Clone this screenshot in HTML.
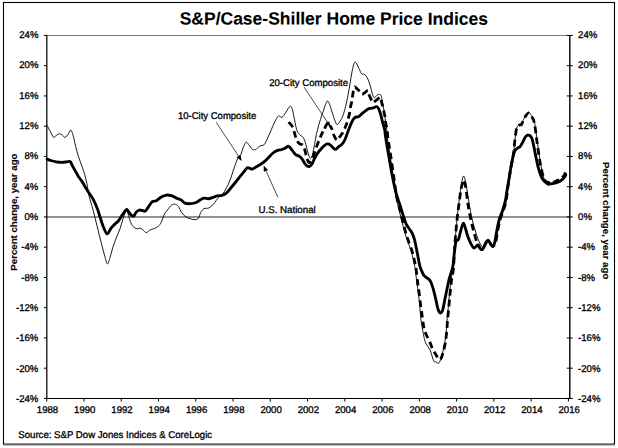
<!DOCTYPE html><html><head><meta charset="utf-8"><style>
html,body{margin:0;padding:0;background:#fff}
body{width:618px;height:448px;position:relative;overflow:hidden}
</style></head><body>
<svg width="618" height="448" viewBox="0 0 618 448" style="position:absolute;left:0;top:0">
<rect x="3.5" y="2.5" width="611" height="441.6" fill="#fff" stroke="#000" stroke-width="1.1"/>
<rect x="3" y="444.65" width="612" height="0.9" fill="#8a8a8a"/>
<line x1="46.8" y1="35.5" x2="569.8" y2="35.5" stroke="#7a7a7a" stroke-width="1"/>
<line x1="46.8" y1="217.0" x2="569.8" y2="217.0" stroke="#6e6e6e" stroke-width="1.7"/>
<path d="M47.10,125.20 C47.55,126.08 48.75,128.52 49.80,130.50 C50.85,132.48 52.50,136.12 53.40,137.10 C54.30,138.08 54.30,136.95 55.20,136.40 C56.10,135.85 57.62,134.03 58.80,133.80 C59.98,133.57 61.33,134.42 62.30,135.00 C63.27,135.58 63.70,137.30 64.60,137.30 C65.50,137.30 66.73,136.18 67.70,135.00 C68.67,133.82 69.67,130.65 70.40,130.20 C71.13,129.75 71.52,130.90 72.10,132.30 C72.68,133.70 73.30,136.22 73.90,138.60 C74.50,140.98 74.95,143.63 75.70,146.60 C76.45,149.57 77.35,153.12 78.40,156.40 C79.45,159.68 80.97,163.32 82.00,166.30 C83.03,169.28 83.80,171.48 84.60,174.30 C85.40,177.12 86.25,180.67 86.80,183.20 C87.35,185.73 87.52,187.35 87.90,189.50 C88.28,191.65 88.23,192.67 89.10,196.10 C89.97,199.53 91.77,205.08 93.10,210.10 C94.43,215.12 95.77,220.85 97.10,226.20 C98.43,231.55 99.77,237.02 101.10,242.20 C102.43,247.38 104.03,253.68 105.10,257.30 C106.17,260.92 106.67,263.90 107.50,263.90 C108.33,263.90 109.15,260.23 110.10,257.30 C111.05,254.37 112.18,249.48 113.20,246.30 C114.22,243.12 115.03,241.22 116.20,238.20 C117.37,235.18 119.03,231.53 120.20,228.20 C121.37,224.87 122.20,221.15 123.20,218.20 C124.20,215.25 125.37,211.18 126.20,210.50 C127.03,209.82 127.53,212.32 128.20,214.10 C128.87,215.88 129.37,219.12 130.20,221.20 C131.03,223.28 132.03,225.33 133.20,226.60 C134.37,227.87 136.02,228.53 137.20,228.80 C138.38,229.07 139.28,227.97 140.30,228.20 C141.32,228.43 142.30,229.47 143.30,230.20 C144.30,230.93 145.13,232.67 146.30,232.60 C147.47,232.53 148.97,230.47 150.30,229.80 C151.63,229.13 152.97,229.20 154.30,228.60 C155.63,228.00 157.13,227.27 158.30,226.20 C159.47,225.13 160.28,224.22 161.30,222.20 C162.32,220.18 163.38,216.12 164.40,214.10 C165.42,212.08 166.23,211.60 167.40,210.10 C168.57,208.60 170.07,206.07 171.40,205.10 C172.73,204.13 174.23,204.07 175.40,204.30 C176.57,204.53 177.35,205.12 178.40,206.50 C179.45,207.88 180.40,210.83 181.70,212.60 C183.00,214.37 184.72,216.07 186.20,217.10 C187.68,218.13 189.12,218.37 190.60,218.80 C192.08,219.23 193.80,219.80 195.10,219.70 C196.40,219.60 197.47,219.38 198.40,218.20 C199.33,217.02 199.77,214.20 200.70,212.60 C201.63,211.00 202.70,209.35 204.00,208.60 C205.30,207.85 207.02,208.73 208.50,208.10 C209.98,207.47 211.60,206.10 212.90,204.80 C214.20,203.50 215.18,201.68 216.30,200.30 C217.42,198.92 218.48,197.62 219.60,196.50 C220.72,195.38 221.68,195.38 223.00,193.60 C224.32,191.82 226.20,188.40 227.50,185.80 C228.80,183.20 229.68,180.98 230.80,178.00 C231.92,175.02 233.08,171.07 234.20,167.90 C235.32,164.73 236.40,161.22 237.50,159.00 C238.60,156.78 239.87,156.45 240.80,154.60 C241.73,152.75 242.23,149.95 243.10,147.90 C243.97,145.85 245.07,142.87 246.00,142.30 C246.93,141.73 247.70,143.38 248.70,144.50 C249.70,145.62 250.88,148.15 252.00,149.00 C253.12,149.85 254.10,150.08 255.40,149.60 C256.70,149.12 258.32,146.95 259.80,146.10 C261.28,145.25 262.98,145.87 264.30,144.50 C265.62,143.13 266.54,140.35 267.70,137.90 C268.86,135.45 270.07,132.48 271.25,129.80 C272.43,127.12 273.61,124.08 274.80,121.80 C275.99,119.52 277.20,116.85 278.40,116.10 C279.60,115.35 280.82,117.83 282.00,117.30 C283.18,116.77 284.47,114.38 285.50,112.90 C286.53,111.42 287.38,109.53 288.20,108.40 C289.02,107.27 289.75,106.10 290.40,106.10 C291.05,106.10 291.57,106.92 292.10,108.40 C292.63,109.88 292.83,111.45 293.60,115.00 C294.37,118.55 295.68,126.42 296.70,129.70 C297.72,132.98 298.58,133.37 299.70,134.70 C300.82,136.03 302.37,136.07 303.40,137.70 C304.43,139.33 305.18,142.13 305.90,144.50 C306.62,146.87 307.08,149.75 307.70,151.90 C308.32,154.05 309.05,156.38 309.60,157.40 C310.15,158.42 310.50,158.52 311.00,158.00 C311.50,157.48 312.02,156.55 312.60,154.30 C313.18,152.05 313.88,147.77 314.50,144.50 C315.12,141.23 315.58,137.98 316.30,134.70 C317.02,131.42 317.87,128.08 318.80,124.80 C319.73,121.52 321.20,117.13 321.90,115.00 C322.60,112.87 322.37,113.85 323.00,112.00 C323.63,110.15 324.95,105.73 325.70,103.90 C326.45,102.07 326.87,100.97 327.50,101.00 C328.13,101.03 328.73,102.25 329.50,104.10 C330.27,105.95 331.22,109.42 332.10,112.10 C332.98,114.78 333.97,118.12 334.80,120.20 C335.63,122.28 336.20,124.45 337.10,124.60 C338.00,124.75 339.23,122.58 340.20,121.10 C341.17,119.62 342.02,118.08 342.90,115.70 C343.78,113.32 344.62,110.37 345.50,106.80 C346.38,103.23 347.45,98.17 348.20,94.30 C348.95,90.43 349.40,87.17 350.00,83.60 C350.60,80.03 351.20,76.03 351.80,72.90 C352.40,69.77 353.07,66.60 353.60,64.80 C354.13,63.00 354.47,62.25 355.00,62.10 C355.53,61.95 356.15,62.85 356.80,63.90 C357.45,64.95 358.10,66.76 358.90,68.40 C359.70,70.04 360.70,72.77 361.60,73.75 C362.50,74.73 363.40,73.71 364.30,74.30 C365.20,74.89 366.05,75.52 367.00,77.30 C367.95,79.08 369.15,82.38 370.00,85.00 C370.85,87.62 371.42,90.90 372.10,93.00 C372.78,95.10 373.27,97.25 374.10,97.60 C374.93,97.95 376.18,95.65 377.10,95.10 C378.02,94.55 378.93,94.22 379.60,94.30 C380.27,94.38 380.68,94.63 381.10,95.60 C381.52,96.57 381.68,98.02 382.10,100.10 C382.52,102.18 383.10,105.08 383.60,108.10 C384.10,111.12 384.58,114.67 385.10,118.20 C385.62,121.73 386.32,126.02 386.70,129.30 C387.08,132.58 386.83,133.50 387.40,137.90 C387.97,142.30 389.13,149.17 390.10,155.70 C391.07,162.23 392.24,170.38 393.20,177.10 C394.16,183.82 394.83,190.35 395.85,196.00 C396.88,201.65 398.18,206.10 399.35,211.00 C400.53,215.90 401.72,220.92 402.90,225.40 C404.08,229.88 405.11,233.73 406.45,237.90 C407.79,242.07 409.75,246.55 410.95,250.40 C412.15,254.25 412.92,257.73 413.65,261.00 C414.38,264.27 414.83,266.50 415.35,270.00 C415.87,273.50 416.32,278.67 416.75,282.00 C417.18,285.33 417.42,286.28 417.90,290.00 C418.38,293.72 419.15,299.40 419.65,304.30 C420.15,309.20 420.29,314.55 420.90,319.40 C421.51,324.25 422.52,329.50 423.30,333.40 C424.08,337.30 424.43,339.93 425.60,342.80 C426.77,345.67 428.97,347.60 430.30,350.60 C431.63,353.60 432.65,358.93 433.60,360.80 C434.55,362.67 435.20,361.37 436.00,361.80 C436.80,362.23 437.60,363.83 438.40,363.40 C439.20,362.97 440.03,361.27 440.80,359.20 C441.57,357.13 442.33,353.73 443.00,351.00 C443.67,348.27 444.27,345.98 444.80,342.80 C445.33,339.62 445.83,335.55 446.20,331.90 C446.57,328.25 446.63,325.20 447.00,320.90 C447.37,316.60 447.95,310.95 448.40,306.10 C448.85,301.25 449.25,296.27 449.70,291.80 C450.15,287.33 450.57,283.17 451.10,279.30 C451.63,275.43 452.23,274.98 452.90,268.60 C453.57,262.22 454.40,249.43 455.10,241.00 C455.80,232.57 456.43,224.67 457.10,218.00 C457.77,211.33 458.43,206.25 459.10,201.00 C459.77,195.75 460.37,190.67 461.10,186.50 C461.83,182.33 462.65,176.25 463.50,176.00 C464.35,175.75 465.28,180.50 466.20,185.00 C467.12,189.50 468.00,197.25 469.00,203.00 C470.00,208.75 471.13,214.83 472.20,219.50 C473.27,224.17 474.40,227.67 475.40,231.00 C476.40,234.33 477.17,237.00 478.20,239.50 C479.23,242.00 480.63,244.75 481.60,246.00 C482.57,247.25 483.40,247.28 484.00,247.00 C484.60,246.72 484.57,245.42 485.20,244.30 C485.83,243.18 486.96,240.47 487.80,240.30 C488.64,240.13 489.43,242.28 490.25,243.30 C491.07,244.32 491.81,246.57 492.70,246.40 C493.59,246.23 494.78,244.82 495.60,242.30 C496.42,239.78 496.83,235.15 497.60,231.30 C498.37,227.45 499.27,222.55 500.20,219.20 C501.13,215.85 502.22,214.22 503.20,211.20 C504.18,208.18 505.35,204.63 506.07,201.10 C506.79,197.57 506.99,193.78 507.50,190.00 C508.01,186.22 508.51,182.35 509.11,178.40 C509.71,174.45 510.44,169.98 511.10,166.30 C511.77,162.62 512.60,159.32 513.10,156.30 C513.60,153.28 513.77,151.22 514.10,148.20 C514.43,145.18 514.67,141.55 515.10,138.20 C515.53,134.85 516.03,130.37 516.70,128.10 C517.37,125.83 518.30,125.32 519.10,124.60 C519.90,123.88 520.77,124.65 521.50,123.80 C522.23,122.95 522.72,121.08 523.50,119.50 C524.28,117.92 525.35,115.53 526.20,114.30 C527.05,113.07 527.77,111.93 528.60,112.10 C529.43,112.27 530.33,114.05 531.20,115.30 C532.07,116.55 533.08,117.47 533.80,119.60 C534.52,121.73 534.95,124.67 535.50,128.10 C536.05,131.53 536.50,135.83 537.10,140.20 C537.70,144.57 538.43,149.95 539.10,154.30 C539.77,158.65 540.37,162.52 541.10,166.30 C541.83,170.08 542.68,174.22 543.50,177.00 C544.32,179.78 545.30,181.60 546.00,183.00 C546.70,184.40 546.87,185.32 547.70,185.40 C548.53,185.48 549.90,183.90 551.00,183.50 C552.10,183.10 553.25,183.33 554.30,183.00 C555.35,182.67 556.30,182.00 557.30,181.50 C558.30,181.00 559.30,180.75 560.30,180.00 C561.30,179.25 562.39,178.17 563.30,177.00 C564.21,175.83 565.34,173.67 565.75,173.00" fill="none" stroke="#000" stroke-width="0.9" stroke-linejoin="round"/>
<path d="M324.60,128.60 C324.17,129.40 322.77,131.82 322.00,133.40 C321.23,134.98 320.73,136.35 320.00,138.10 C319.27,139.85 318.42,141.82 317.60,143.90 C316.78,145.98 315.93,148.25 315.10,150.60 C314.27,152.95 313.42,156.05 312.60,158.00 C311.78,159.95 310.92,161.68 310.20,162.30 C309.48,162.92 308.92,162.62 308.30,161.70 C307.68,160.78 307.10,158.85 306.50,156.80 C305.90,154.75 305.32,151.35 304.70,149.40 C304.08,147.45 303.63,146.02 302.80,145.10 C301.97,144.18 300.72,144.72 299.70,143.90 C298.68,143.08 297.55,141.95 296.70,140.20 C295.85,138.45 295.32,135.65 294.60,133.40 C293.88,131.15 293.42,128.60 292.40,126.70 C291.38,124.80 289.15,122.78 288.50,122.00" fill="none" stroke="#000" stroke-width="2.8" stroke-dasharray="6.7 4" stroke-dashoffset="7.4" stroke-linejoin="round"/>
<path d="M324.60,128.60 C324.88,128.00 325.73,125.95 326.30,125.00 C326.87,124.05 327.48,122.97 328.00,122.90 C328.52,122.83 328.97,123.98 329.40,124.60 C329.83,125.22 330.17,125.83 330.60,126.60 C331.03,127.37 331.55,128.02 332.00,129.20 C332.45,130.38 332.82,132.35 333.30,133.70 C333.78,135.05 334.40,136.35 334.90,137.30 C335.40,138.25 335.83,138.92 336.30,139.40 C336.77,139.88 337.23,140.48 337.70,140.20 C338.17,139.92 338.53,138.57 339.10,137.70 C339.67,136.83 340.43,135.92 341.10,135.00 C341.77,134.08 342.52,133.25 343.10,132.20 C343.68,131.15 343.93,130.30 344.60,128.70 C345.27,127.10 346.47,124.35 347.10,122.60 C347.73,120.85 347.95,120.02 348.40,118.20 C348.85,116.38 349.48,113.45 349.80,111.70 C350.12,109.95 349.95,109.47 350.30,107.70 C350.65,105.93 351.55,102.87 351.90,101.10 C352.25,99.33 352.15,98.85 352.40,97.10 C352.65,95.35 353.08,92.25 353.40,90.60 C353.72,88.95 354.02,87.78 354.30,87.20 C354.58,86.62 354.55,86.75 355.10,87.10 C355.65,87.45 356.77,88.55 357.60,89.30 C358.43,90.05 359.45,90.88 360.10,91.60 C360.75,92.32 361.08,93.18 361.50,93.60 C361.92,94.02 361.98,94.32 362.60,94.10 C363.22,93.88 364.35,92.92 365.20,92.30 C366.05,91.68 367.13,90.53 367.70,90.40 C368.27,90.27 368.35,90.72 368.60,91.50 C368.85,92.28 368.85,93.95 369.20,95.10 C369.55,96.25 370.22,97.32 370.70,98.40 C371.18,99.48 371.65,100.90 372.10,101.60 C372.55,102.30 372.98,102.60 373.40,102.60 C373.82,102.60 373.93,102.15 374.60,101.60 C375.27,101.05 376.48,100.05 377.40,99.30 C378.32,98.55 379.50,97.27 380.10,97.10 C380.70,96.93 380.75,97.47 381.00,98.30 C381.25,99.13 381.17,100.22 381.60,102.10 C382.03,103.98 383.18,107.83 383.60,109.60 C384.02,111.37 383.77,111.10 384.10,112.70 C384.43,114.30 385.35,117.53 385.60,119.20 C385.85,120.87 385.35,121.02 385.60,122.70 C385.85,124.38 386.72,126.77 387.10,129.30 C387.48,131.83 387.30,133.50 387.90,137.90 C388.50,142.30 389.72,149.17 390.70,155.70 C391.68,162.23 392.82,170.38 393.80,177.10 C394.78,183.82 395.53,190.35 396.60,196.00 C397.67,201.65 399.01,206.10 400.20,211.00 C401.39,215.90 402.57,220.92 403.75,225.40 C404.93,229.88 405.96,233.73 407.30,237.90 C408.64,242.07 410.60,246.55 411.80,250.40 C413.00,254.25 413.77,257.73 414.50,261.00 C415.23,264.27 415.68,266.50 416.20,270.00 C416.72,273.50 417.18,278.67 417.60,282.00 C418.03,285.33 418.27,286.28 418.75,290.00 C419.23,293.72 419.91,299.83 420.50,304.30 C421.09,308.77 421.70,312.68 422.30,316.80 C422.90,320.92 423.42,325.97 424.10,329.00 C424.78,332.03 425.50,332.96 426.40,335.00 C427.30,337.04 428.45,338.90 429.50,341.25 C430.55,343.60 431.57,346.76 432.70,349.10 C433.83,351.44 435.25,353.55 436.30,355.30 C437.35,357.05 438.17,359.18 439.00,359.60 C439.83,360.02 440.55,359.23 441.30,357.80 C442.05,356.37 442.83,353.50 443.50,351.00 C444.17,348.50 444.77,345.98 445.30,342.80 C445.83,339.62 446.33,335.55 446.70,331.90 C447.07,328.25 447.13,325.20 447.50,320.90 C447.87,316.60 448.45,310.95 448.90,306.10 C449.35,301.25 449.75,296.27 450.20,291.80 C450.65,287.33 451.07,283.17 451.60,279.30 C452.13,275.43 452.82,274.93 453.40,268.60 C453.98,262.27 454.48,249.53 455.10,241.30 C455.72,233.07 456.43,225.57 457.10,219.20 C457.77,212.83 458.43,208.12 459.10,203.10 C459.77,198.08 460.37,192.95 461.10,189.10 C461.83,185.25 462.73,180.33 463.50,180.00 C464.27,179.67 464.93,182.90 465.70,187.10 C466.47,191.30 467.18,199.52 468.10,205.20 C469.02,210.88 470.18,216.52 471.20,221.20 C472.22,225.88 473.20,229.62 474.20,233.30 C475.20,236.98 476.20,240.78 477.20,243.30 C478.20,245.82 479.30,247.38 480.20,248.40 C481.10,249.42 481.77,250.08 482.60,249.40 C483.43,248.72 484.33,245.82 485.20,244.30 C486.07,242.78 486.96,240.47 487.80,240.30 C488.64,240.13 489.43,242.28 490.25,243.30 C491.07,244.32 491.81,246.57 492.70,246.40 C493.59,246.23 494.78,244.82 495.60,242.30 C496.42,239.78 496.83,235.15 497.60,231.30 C498.37,227.45 499.27,222.55 500.20,219.20 C501.13,215.85 502.22,214.22 503.20,211.20 C504.18,208.18 505.35,204.63 506.07,201.10 C506.79,197.57 506.99,193.78 507.50,190.00 C508.01,186.22 508.51,182.35 509.11,178.40 C509.71,174.45 510.44,169.98 511.10,166.30 C511.77,162.62 512.60,159.32 513.10,156.30 C513.60,153.28 513.77,151.22 514.10,148.20 C514.43,145.18 514.67,141.55 515.10,138.20 C515.53,134.85 516.03,130.28 516.70,128.10 C517.37,125.92 518.30,125.70 519.10,125.10 C519.90,124.50 520.77,125.33 521.50,124.50 C522.23,123.67 522.72,121.67 523.50,120.10 C524.28,118.53 525.35,116.27 526.20,115.10 C527.05,113.93 527.77,112.93 528.60,113.10 C529.43,113.27 530.37,114.93 531.20,116.10 C532.03,117.27 532.93,118.10 533.60,120.10 C534.27,122.10 534.67,124.75 535.20,128.10 C535.73,131.45 536.20,135.83 536.80,140.20 C537.40,144.57 538.13,149.95 538.80,154.30 C539.47,158.65 540.07,162.62 540.80,166.30 C541.53,169.98 542.38,173.88 543.20,176.40 C544.02,178.92 544.85,180.40 545.70,181.40 C546.55,182.40 547.37,182.57 548.30,182.40 C549.23,182.23 550.30,180.47 551.30,180.40 C552.30,180.33 553.30,182.00 554.30,182.00 C555.30,182.00 556.30,180.83 557.30,180.40 C558.30,179.97 559.30,180.07 560.30,179.40 C561.30,178.73 562.39,177.57 563.30,176.40 C564.21,175.23 565.34,173.07 565.75,172.40" fill="none" stroke="#000" stroke-width="2.8" stroke-dasharray="6.7 3.2 5.2 4 6.7 4.07 6.7 4.07 6.7 4.07 6.7 4.07 6.7 4.07 6.7 4.07 6.7 4.07 6.7 4.07 6.7 4.07 6.7 4.07 6.7 4.07 6.7 4.07 6.7 4.07 6.7 4.07 6.7 4.07 6.7 4.07 6.7 4.07 6.7 4.07 6.7 4.07 6.7 4.07 6.7 4.07 6.7 4.07 6.7 4.07 6.7 4.07 6.7 4.07 6.7 4.07 6.7 4.07 6.7 4.07 6.7 4.07 6.7 4.07 6.7 4.07 6.7 4.07 6.7 4.07 6.7 4.07 6.7 4.07 6.7 4.07 6.7 4.07 6.7 4.07 6.7 4.07 6.7 4.07 6.7 4.07 6.7 4.07 6.7 4.07 6.7 4.07 6.7 4.07 6.7 4.07 6.7 4.07 6.7 4.07 6.7 4.07 6.7 4.07 6.7 4.07 6.7 4.07 6.7 4.07 6.7 4.07 6.7 4.07 6.7 4.07 6.7 4.07 6.7 4.07 6.7 4.07 6.7 4.07 6.7 4.07 6.7 4.07 6.7 4.07 6.7 4.07 6.7 4.07 6.7 4.07 6.7 4.07 6.7 4.07 6.7 4.07 6.7 4.07 6.7 4.07 6.7 4.07 6.7 4.07 6.7 4.07 6.7 4.07 6.7 4.07 6.7 4.07 6.7 4.07 6.7 4.07 6.7 4.07 6.7 4.07 6.7 4.07 6.7 4.07 6.7 4.07 6.7 4.07 6.7 4.07 6.7 4.07 6.7 4.07 6.7 4.07 6.7 4.07 6.7 4.07 6.7 4.07 6.7 4.07 6.7 4.07 6.7 4.07 6.7 4.07 6.7 4.07 6.7 4.07 6.7 4.07 6.7 4.07 6.7 4.07 6.7 4.07 6.7 4.07 6.7 4.07 6.7 4.07 6.7 4.07 6.7 4.07 6.7 4.07 6.7 4.07 6.7 4.07" stroke-linejoin="round"/>
<path d="M47.10,159.10 C47.70,159.33 49.20,160.05 50.70,160.50 C52.20,160.95 54.17,161.50 56.10,161.80 C58.03,162.10 60.52,162.30 62.30,162.30 C64.08,162.30 65.47,161.92 66.80,161.80 C68.13,161.68 69.38,160.97 70.30,161.60 C71.22,162.23 71.40,163.93 72.30,165.60 C73.20,167.27 74.68,169.80 75.70,171.60 C76.72,173.40 77.35,174.77 78.40,176.40 C79.45,178.03 80.97,179.82 82.00,181.40 C83.03,182.98 83.80,184.55 84.60,185.90 C85.40,187.25 85.90,188.07 86.80,189.50 C87.70,190.93 88.95,192.90 90.00,194.50 C91.05,196.10 91.92,196.83 93.10,199.10 C94.28,201.37 95.93,205.10 97.10,208.10 C98.27,211.10 99.10,214.08 100.10,217.10 C101.10,220.12 101.93,223.42 103.10,226.20 C104.27,228.98 105.77,233.47 107.10,233.80 C108.43,234.13 109.75,229.87 111.10,228.20 C112.45,226.53 114.02,224.97 115.20,223.80 C116.38,222.63 117.03,222.65 118.20,221.20 C119.37,219.75 120.87,217.02 122.20,215.10 C123.53,213.18 125.20,210.37 126.20,209.70 C127.20,209.03 127.37,210.20 128.20,211.10 C129.03,212.00 130.27,214.27 131.20,215.10 C132.13,215.93 132.97,216.60 133.80,216.10 C134.63,215.60 135.28,213.10 136.20,212.10 C137.12,211.10 138.28,210.37 139.30,210.10 C140.32,209.83 141.30,210.33 142.30,210.50 C143.30,210.67 144.30,211.67 145.30,211.10 C146.30,210.53 147.13,208.67 148.30,207.10 C149.47,205.53 150.97,202.77 152.30,201.70 C153.63,200.63 154.80,201.47 156.30,200.70 C157.80,199.93 159.62,198.03 161.30,197.10 C162.98,196.17 164.72,195.33 166.40,195.10 C168.08,194.87 169.73,195.20 171.40,195.70 C173.07,196.20 174.73,197.37 176.40,198.10 C178.07,198.83 179.97,199.25 181.40,200.10 C182.83,200.95 183.47,202.60 185.00,203.20 C186.53,203.80 188.73,203.82 190.60,203.70 C192.47,203.58 194.52,203.18 196.20,202.50 C197.88,201.82 199.40,200.33 200.70,199.60 C202.00,198.87 202.70,198.24 204.00,198.10 C205.30,197.96 207.02,198.87 208.50,198.75 C209.98,198.63 211.42,197.89 212.90,197.40 C214.38,196.91 215.90,196.13 217.40,195.80 C218.90,195.47 220.42,195.83 221.90,195.40 C223.38,194.97 224.82,194.43 226.30,193.20 C227.78,191.97 229.30,189.78 230.80,188.00 C232.30,186.22 233.82,184.35 235.30,182.50 C236.78,180.65 238.22,178.77 239.70,176.90 C241.18,175.03 242.93,172.83 244.20,171.30 C245.47,169.77 246.37,168.20 247.30,167.70 C248.23,167.20 248.98,168.08 249.80,168.30 C250.62,168.52 251.23,169.17 252.20,169.00 C253.17,168.83 254.18,168.10 255.60,167.30 C257.02,166.50 259.13,165.23 260.70,164.20 C262.27,163.17 263.68,162.22 265.00,161.10 C266.32,159.98 267.27,158.85 268.60,157.50 C269.93,156.15 271.52,154.18 273.00,153.00 C274.48,151.82 276.00,150.98 277.50,150.40 C279.00,149.82 280.75,149.87 282.00,149.50 C283.25,149.13 283.88,148.73 285.00,148.20 C286.12,147.67 287.47,145.90 288.70,146.30 C289.93,146.70 291.28,149.27 292.40,150.60 C293.52,151.93 294.28,153.37 295.40,154.30 C296.52,155.23 297.97,155.38 299.10,156.20 C300.23,157.02 301.27,157.98 302.20,159.20 C303.13,160.42 303.88,162.37 304.70,163.50 C305.52,164.63 306.28,165.52 307.10,166.00 C307.92,166.48 308.78,166.72 309.60,166.40 C310.42,166.08 311.18,165.40 312.00,164.10 C312.82,162.80 313.57,160.43 314.50,158.60 C315.43,156.77 316.48,154.73 317.60,153.10 C318.72,151.47 320.08,150.03 321.20,148.80 C322.32,147.57 323.27,146.52 324.30,145.70 C325.33,144.88 326.37,144.00 327.40,143.90 C328.43,143.80 329.48,144.38 330.50,145.10 C331.52,145.82 332.63,147.48 333.50,148.20 C334.37,148.92 334.82,149.67 335.70,149.40 C336.57,149.13 337.65,147.52 338.75,146.60 C339.85,145.68 341.26,145.08 342.30,143.90 C343.34,142.72 344.10,141.43 345.00,139.50 C345.90,137.57 346.80,134.68 347.70,132.30 C348.60,129.92 349.52,127.28 350.40,125.20 C351.28,123.12 352.12,121.15 353.00,119.80 C353.88,118.45 354.80,117.60 355.70,117.10 C356.60,116.60 357.35,117.38 358.40,116.80 C359.45,116.22 360.82,114.58 362.00,113.60 C363.18,112.62 364.38,111.73 365.50,110.90 C366.62,110.07 367.62,109.05 368.75,108.60 C369.88,108.15 370.99,108.53 372.30,108.20 C373.61,107.87 375.55,106.53 376.60,106.60 C377.65,106.67 377.93,107.33 378.60,108.60 C379.27,109.87 379.93,111.93 380.60,114.20 C381.27,116.47 381.93,119.68 382.60,122.20 C383.27,124.72 384.08,126.68 384.60,129.30 C385.12,131.92 384.92,132.90 385.70,137.90 C386.48,142.90 388.10,152.47 389.30,159.30 C390.50,166.13 391.68,172.95 392.90,178.90 C394.12,184.85 395.38,190.53 396.60,195.00 C397.82,199.47 399.15,202.43 400.20,205.70 C401.25,208.97 401.87,211.47 402.90,214.60 C403.93,217.73 404.92,221.52 406.40,224.50 C407.88,227.48 410.45,229.98 411.80,232.50 C413.15,235.02 413.62,236.33 414.50,239.60 C415.38,242.87 416.25,247.87 417.10,252.10 C417.95,256.33 418.88,261.95 419.60,265.00 C420.32,268.05 420.65,268.62 421.40,270.40 C422.15,272.18 423.05,274.37 424.10,275.70 C425.15,277.03 426.65,277.50 427.70,278.40 C428.75,279.30 429.52,279.47 430.40,281.10 C431.28,282.73 432.12,285.23 433.00,288.20 C433.88,291.17 434.88,295.47 435.70,298.90 C436.52,302.32 437.15,306.42 437.90,308.75 C438.65,311.08 439.43,312.61 440.20,312.90 C440.97,313.19 441.77,312.53 442.50,310.50 C443.23,308.47 443.88,304.12 444.60,300.70 C445.32,297.28 446.05,293.57 446.80,290.00 C447.55,286.43 448.27,282.57 449.10,279.30 C449.93,276.03 451.13,272.78 451.80,270.40 C452.47,268.02 452.65,268.17 453.10,265.00 C453.55,261.83 454.00,255.35 454.50,251.40 C455.00,247.45 455.43,243.32 456.10,241.30 C456.77,239.28 457.67,241.30 458.50,239.30 C459.33,237.30 460.27,231.98 461.10,229.30 C461.93,226.62 462.73,223.20 463.50,223.20 C464.27,223.20 464.93,226.95 465.70,229.30 C466.47,231.65 467.18,234.80 468.10,237.30 C469.02,239.80 470.25,242.52 471.20,244.30 C472.15,246.08 472.97,247.65 473.80,248.00 C474.63,248.35 475.47,246.92 476.20,246.40 C476.93,245.88 477.53,244.57 478.20,244.90 C478.87,245.23 479.47,247.65 480.20,248.40 C480.93,249.15 481.77,250.08 482.60,249.40 C483.43,248.72 484.33,245.82 485.20,244.30 C486.07,242.78 486.96,240.47 487.80,240.30 C488.64,240.13 489.43,242.28 490.25,243.30 C491.07,244.32 491.96,246.57 492.70,246.40 C493.44,246.23 494.03,244.82 494.70,242.30 C495.37,239.78 495.93,235.15 496.70,231.30 C497.47,227.45 498.37,222.55 499.30,219.20 C500.23,215.85 501.30,214.22 502.30,211.20 C503.30,208.18 504.50,204.63 505.30,201.10 C506.10,197.57 506.47,193.78 507.10,190.00 C507.73,186.22 508.43,182.35 509.10,178.40 C509.77,174.45 510.43,169.98 511.10,166.30 C511.77,162.62 512.43,158.98 513.10,156.30 C513.77,153.62 514.37,151.60 515.10,150.25 C515.83,148.90 516.67,148.81 517.50,148.20 C518.33,147.59 519.23,147.60 520.10,146.60 C520.97,145.60 521.85,143.77 522.70,142.20 C523.55,140.63 524.38,138.37 525.20,137.20 C526.02,136.03 526.77,135.43 527.60,135.20 C528.43,134.97 529.43,135.13 530.20,135.80 C530.97,136.47 531.53,137.13 532.20,139.20 C532.87,141.27 533.53,145.02 534.20,148.20 C534.87,151.38 535.53,155.12 536.20,158.30 C536.87,161.48 537.43,164.45 538.20,167.30 C538.97,170.15 539.97,173.28 540.80,175.40 C541.63,177.52 542.29,178.77 543.20,180.00 C544.11,181.23 545.23,182.13 546.25,182.80 C547.27,183.47 548.12,183.90 549.30,184.00 C550.47,184.10 551.97,183.67 553.30,183.40 C554.63,183.13 555.97,182.90 557.30,182.40 C558.63,181.90 560.13,181.23 561.30,180.40 C562.47,179.57 563.56,178.33 564.30,177.40 C565.04,176.47 565.51,175.23 565.75,174.80" fill="none" stroke="#000" stroke-width="2.85" stroke-linejoin="round" stroke-linecap="round"/>
<line x1="46.8" y1="35.0" x2="46.8" y2="398.95" stroke="#000" stroke-width="1.25"/>
<line x1="569.8" y1="35.0" x2="569.8" y2="398.95" stroke="#000" stroke-width="1.4"/>
<line x1="46.3" y1="398.45" x2="570.3" y2="398.45" stroke="#000" stroke-width="1.1"/>
<line x1="43.9" y1="35.45" x2="46.8" y2="35.45" stroke="#000" stroke-width="1"/>
<line x1="566.8" y1="35.45" x2="572.8" y2="35.45" stroke="#000" stroke-width="1"/>
<line x1="43.9" y1="65.70" x2="46.8" y2="65.70" stroke="#000" stroke-width="1"/>
<line x1="566.8" y1="65.70" x2="572.8" y2="65.70" stroke="#000" stroke-width="1"/>
<line x1="43.9" y1="95.95" x2="46.8" y2="95.95" stroke="#000" stroke-width="1"/>
<line x1="566.8" y1="95.95" x2="572.8" y2="95.95" stroke="#000" stroke-width="1"/>
<line x1="43.9" y1="126.20" x2="46.8" y2="126.20" stroke="#000" stroke-width="1"/>
<line x1="566.8" y1="126.20" x2="572.8" y2="126.20" stroke="#000" stroke-width="1"/>
<line x1="43.9" y1="156.45" x2="46.8" y2="156.45" stroke="#000" stroke-width="1"/>
<line x1="566.8" y1="156.45" x2="572.8" y2="156.45" stroke="#000" stroke-width="1"/>
<line x1="43.9" y1="186.70" x2="46.8" y2="186.70" stroke="#000" stroke-width="1"/>
<line x1="566.8" y1="186.70" x2="572.8" y2="186.70" stroke="#000" stroke-width="1"/>
<line x1="43.9" y1="216.95" x2="46.8" y2="216.95" stroke="#000" stroke-width="1"/>
<line x1="566.8" y1="216.95" x2="572.8" y2="216.95" stroke="#000" stroke-width="1"/>
<line x1="43.9" y1="247.20" x2="46.8" y2="247.20" stroke="#000" stroke-width="1"/>
<line x1="566.8" y1="247.20" x2="572.8" y2="247.20" stroke="#000" stroke-width="1"/>
<line x1="43.9" y1="277.45" x2="46.8" y2="277.45" stroke="#000" stroke-width="1"/>
<line x1="566.8" y1="277.45" x2="572.8" y2="277.45" stroke="#000" stroke-width="1"/>
<line x1="43.9" y1="307.70" x2="46.8" y2="307.70" stroke="#000" stroke-width="1"/>
<line x1="566.8" y1="307.70" x2="572.8" y2="307.70" stroke="#000" stroke-width="1"/>
<line x1="43.9" y1="337.95" x2="46.8" y2="337.95" stroke="#000" stroke-width="1"/>
<line x1="566.8" y1="337.95" x2="572.8" y2="337.95" stroke="#000" stroke-width="1"/>
<line x1="43.9" y1="368.20" x2="46.8" y2="368.20" stroke="#000" stroke-width="1"/>
<line x1="566.8" y1="368.20" x2="572.8" y2="368.20" stroke="#000" stroke-width="1"/>
<line x1="43.9" y1="398.45" x2="46.8" y2="398.45" stroke="#000" stroke-width="1"/>
<line x1="566.8" y1="398.45" x2="572.8" y2="398.45" stroke="#000" stroke-width="1"/>
<line x1="46.70" y1="398.45" x2="46.70" y2="401.55" stroke="#000" stroke-width="1"/>
<line x1="83.96" y1="398.45" x2="83.96" y2="401.55" stroke="#000" stroke-width="1"/>
<line x1="121.23" y1="398.45" x2="121.23" y2="401.55" stroke="#000" stroke-width="1"/>
<line x1="158.49" y1="398.45" x2="158.49" y2="401.55" stroke="#000" stroke-width="1"/>
<line x1="195.76" y1="398.45" x2="195.76" y2="401.55" stroke="#000" stroke-width="1"/>
<line x1="233.02" y1="398.45" x2="233.02" y2="401.55" stroke="#000" stroke-width="1"/>
<line x1="270.29" y1="398.45" x2="270.29" y2="401.55" stroke="#000" stroke-width="1"/>
<line x1="307.55" y1="398.45" x2="307.55" y2="401.55" stroke="#000" stroke-width="1"/>
<line x1="344.81" y1="398.45" x2="344.81" y2="401.55" stroke="#000" stroke-width="1"/>
<line x1="382.08" y1="398.45" x2="382.08" y2="401.55" stroke="#000" stroke-width="1"/>
<line x1="419.34" y1="398.45" x2="419.34" y2="401.55" stroke="#000" stroke-width="1"/>
<line x1="456.61" y1="398.45" x2="456.61" y2="401.55" stroke="#000" stroke-width="1"/>
<line x1="493.87" y1="398.45" x2="493.87" y2="401.55" stroke="#000" stroke-width="1"/>
<line x1="531.14" y1="398.45" x2="531.14" y2="401.55" stroke="#000" stroke-width="1"/>
<line x1="568.40" y1="398.45" x2="568.40" y2="401.55" stroke="#000" stroke-width="1"/>
<line x1="216.2" y1="122.3" x2="238.50" y2="156.06" stroke="#000" stroke-width="0.7"/><polygon points="241.70,160.90 236.54,157.36 240.46,154.77" fill="#000"/>
<line x1="278" y1="197.4" x2="265.99" y2="170.88" stroke="#000" stroke-width="0.7"/><polygon points="263.60,165.60 268.13,169.91 263.85,171.85" fill="#000"/>
<line x1="304.0" y1="87.0" x2="327.50" y2="122.34" stroke="#000" stroke-width="0.7"/><polygon points="330.60,127.00 325.83,123.44 329.16,121.23" fill="#000"/>
<g font-family="Liberation Sans, sans-serif" fill="#000" stroke="#000" stroke-width="0.32" stroke-linejoin="round">
<text transform="translate(333.80,24.60) rotate(0.03) scale(1.0,1)" font-size="17.5" text-anchor="middle" font-weight="bold" stroke-width="0.1">S&amp;P/Case-Shiller Home Price Indices</text>
<text transform="translate(38.40,38.00) rotate(0.03) scale(0.979,1)" font-size="9.8" text-anchor="end">24%</text>
<text transform="translate(578.10,38.00) rotate(0.03) scale(0.979,1)" font-size="9.8" text-anchor="start">24%</text>
<text transform="translate(38.40,68.00) rotate(0.03) scale(0.979,1)" font-size="9.8" text-anchor="end">20%</text>
<text transform="translate(578.10,68.00) rotate(0.03) scale(0.979,1)" font-size="9.8" text-anchor="start">20%</text>
<text transform="translate(38.40,99.00) rotate(0.03) scale(0.979,1)" font-size="9.8" text-anchor="end">16%</text>
<text transform="translate(578.10,99.00) rotate(0.03) scale(0.979,1)" font-size="9.8" text-anchor="start">16%</text>
<text transform="translate(38.40,129.00) rotate(0.03) scale(0.979,1)" font-size="9.8" text-anchor="end">12%</text>
<text transform="translate(578.10,129.00) rotate(0.03) scale(0.979,1)" font-size="9.8" text-anchor="start">12%</text>
<text transform="translate(38.40,159.00) rotate(0.03) scale(0.979,1)" font-size="9.8" text-anchor="end">8%</text>
<text transform="translate(578.10,159.00) rotate(0.03) scale(0.979,1)" font-size="9.8" text-anchor="start">8%</text>
<text transform="translate(38.40,190.00) rotate(0.03) scale(0.979,1)" font-size="9.8" text-anchor="end">4%</text>
<text transform="translate(578.10,190.00) rotate(0.03) scale(0.979,1)" font-size="9.8" text-anchor="start">4%</text>
<text transform="translate(38.40,220.00) rotate(0.03) scale(0.979,1)" font-size="9.8" text-anchor="end">0%</text>
<text transform="translate(578.10,220.00) rotate(0.03) scale(0.979,1)" font-size="9.8" text-anchor="start">0%</text>
<text transform="translate(38.40,250.00) rotate(0.03) scale(0.979,1)" font-size="9.8" text-anchor="end">-4%</text>
<text transform="translate(578.10,250.00) rotate(0.03) scale(0.979,1)" font-size="9.8" text-anchor="start">-4%</text>
<text transform="translate(38.40,281.00) rotate(0.03) scale(0.979,1)" font-size="9.8" text-anchor="end">-8%</text>
<text transform="translate(578.10,281.00) rotate(0.03) scale(0.979,1)" font-size="9.8" text-anchor="start">-8%</text>
<text transform="translate(38.40,311.00) rotate(0.03) scale(0.979,1)" font-size="9.8" text-anchor="end">-12%</text>
<text transform="translate(578.10,311.00) rotate(0.03) scale(0.979,1)" font-size="9.8" text-anchor="start">-12%</text>
<text transform="translate(38.40,341.00) rotate(0.03) scale(0.979,1)" font-size="9.8" text-anchor="end">-16%</text>
<text transform="translate(578.10,341.00) rotate(0.03) scale(0.979,1)" font-size="9.8" text-anchor="start">-16%</text>
<text transform="translate(38.40,372.00) rotate(0.03) scale(0.979,1)" font-size="9.8" text-anchor="end">-20%</text>
<text transform="translate(578.10,372.00) rotate(0.03) scale(0.979,1)" font-size="9.8" text-anchor="start">-20%</text>
<text transform="translate(38.40,402.00) rotate(0.03) scale(0.979,1)" font-size="9.8" text-anchor="end">-24%</text>
<text transform="translate(578.10,402.00) rotate(0.03) scale(0.979,1)" font-size="9.8" text-anchor="start">-24%</text>
<text transform="translate(47.50,413.00) rotate(0.03) scale(0.979,1)" font-size="9.8" text-anchor="middle">1988</text>
<text transform="translate(84.76,413.00) rotate(0.03) scale(0.979,1)" font-size="9.8" text-anchor="middle">1990</text>
<text transform="translate(122.03,413.00) rotate(0.03) scale(0.979,1)" font-size="9.8" text-anchor="middle">1992</text>
<text transform="translate(159.29,413.00) rotate(0.03) scale(0.979,1)" font-size="9.8" text-anchor="middle">1994</text>
<text transform="translate(196.56,413.00) rotate(0.03) scale(0.979,1)" font-size="9.8" text-anchor="middle">1996</text>
<text transform="translate(233.82,413.00) rotate(0.03) scale(0.979,1)" font-size="9.8" text-anchor="middle">1998</text>
<text transform="translate(271.09,413.00) rotate(0.03) scale(0.979,1)" font-size="9.8" text-anchor="middle">2000</text>
<text transform="translate(308.35,413.00) rotate(0.03) scale(0.979,1)" font-size="9.8" text-anchor="middle">2002</text>
<text transform="translate(345.61,413.00) rotate(0.03) scale(0.979,1)" font-size="9.8" text-anchor="middle">2004</text>
<text transform="translate(382.88,413.00) rotate(0.03) scale(0.979,1)" font-size="9.8" text-anchor="middle">2006</text>
<text transform="translate(420.14,413.00) rotate(0.03) scale(0.979,1)" font-size="9.8" text-anchor="middle">2008</text>
<text transform="translate(457.41,413.00) rotate(0.03) scale(0.979,1)" font-size="9.8" text-anchor="middle">2010</text>
<text transform="translate(494.67,413.00) rotate(0.03) scale(0.979,1)" font-size="9.8" text-anchor="middle">2012</text>
<text transform="translate(531.94,413.00) rotate(0.03) scale(0.979,1)" font-size="9.8" text-anchor="middle">2014</text>
<text transform="translate(569.20,413.00) rotate(0.03) scale(0.979,1)" font-size="9.8" text-anchor="middle">2016</text>
<text transform="translate(18.30,438.00) rotate(0.03) scale(0.9819891049827342,1)" font-size="9.8" text-anchor="start">Source: S&amp;P Dow Jones Indices &amp; CoreLogic</text>
<text transform="translate(177.90,119.00) rotate(0.03) scale(0.9726443768996961,1)" font-size="9.8" text-anchor="start">10-City Composite</text>
<text transform="translate(269.20,86.00) rotate(0.03) scale(0.9800880838657651,1)" font-size="9.8" text-anchor="start">20-City Composite</text>
<text transform="translate(258.50,213.00) rotate(0.03) scale(0.9923521343364228,1)" font-size="9.8" text-anchor="start">U.S. National</text>
<text transform="translate(17.00,212.10) rotate(-90) scale(1.03,1)" font-size="9.4" text-anchor="middle" font-weight="bold" stroke-width="0.15">Percent change, year ago</text>
<text transform="translate(602.70,220.70) rotate(90) scale(1.03,1)" font-size="9.4" text-anchor="middle" font-weight="bold" stroke-width="0.15">Percent change, year ago</text>
</g>
</svg>
</body></html>
